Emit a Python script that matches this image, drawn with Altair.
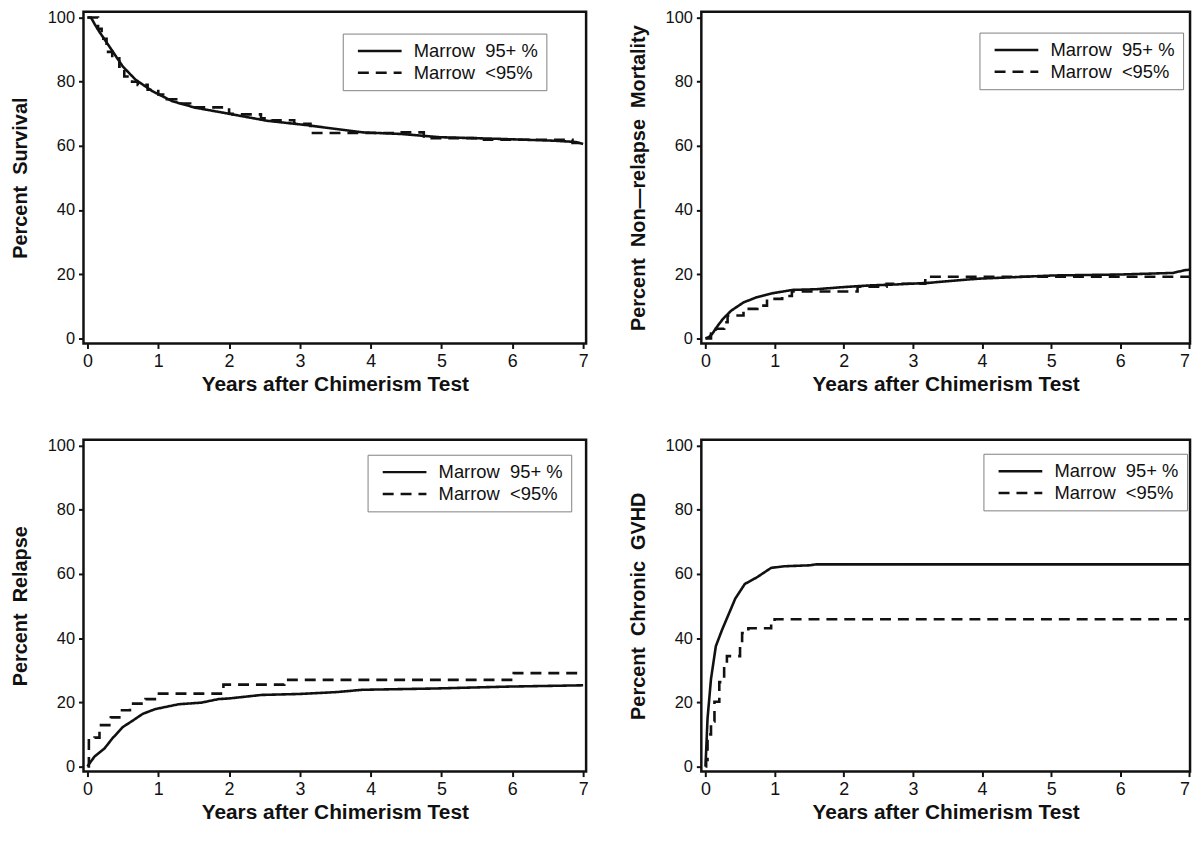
import altair as alt
import pandas as pd

G_HI = "Marrow\u00a0\u00a095+ %\u00a0\u00a0"
G_LO = "Marrow\u00a0\u00a0<95%\u00a0\u00a0"

# Panel 1: Percent Survival
surv_hi_t = [0, 0.05, 0.1, 0.17, 0.36, 0.5, 0.68, 0.92, 1.2, 1.52, 1.95, 2.54, 3.08, 3.46, 3.89, 4.43, 4.97, 5.78, 6.59, 6.9, 7.0]
surv_hi_v = [100, 100, 98, 95.5, 89.3, 84.7, 80.6, 77, 73.9, 71.9, 70.2, 67.8, 66.5, 65.4, 64.2, 63.7, 62.7, 62.2, 61.6, 61.2, 60.6]
surv_lo_t = [0, 0.15, 0.2, 0.27, 0.35, 0.45, 0.52, 0.63, 0.71, 0.85, 1.0, 1.12, 1.28, 1.45, 2.0, 2.05, 2.45, 2.6, 2.92, 3.15, 3.7, 4.4, 4.75, 5.6, 6.85, 7.0]
surv_lo_v = [100, 96.5, 93.4, 89.3, 87.3, 84.7, 81.6, 80, 79, 77.5, 76, 74.5, 73.2, 72, 70, 69.8, 68.6, 68, 66.9, 64, 64, 64.2, 62.4, 61.9, 60.9, 60.9]

# Panel 2: Percent Non-relapse Mortality
nrm_hi_t = [0, 0.05, 0.1, 0.18, 0.25, 0.37, 0.55, 0.74, 0.98, 1.26, 1.59, 2.01, 2.38, 2.76, 3.23, 3.6, 3.95, 4.5, 5.03, 6.0, 6.77, 6.92, 7.0]
nrm_hi_v = [0, 0.4, 1.5, 4, 6, 8.6, 11.2, 12.8, 14.1, 15.1, 15.3, 16, 16.5, 16.8, 17.3, 18, 18.6, 19.1, 19.6, 19.9, 20.4, 21.2, 21.4]
nrm_lo_t = [0, 0.08, 0.15, 0.27, 0.32, 0.55, 0.75, 0.89, 1.11, 1.25, 2.2, 2.62, 3.18, 7.0]
nrm_lo_v = [0, 1.5, 3, 5, 7.1, 9.2, 10.2, 12.3, 13.2, 14.6, 16.1, 17, 19.2, 19.2]

# Panel 3: Percent Relapse
rel_hi_t = [0, 0.03, 0.1, 0.24, 0.35, 0.5, 0.64, 0.78, 0.96, 1.29, 1.61, 1.85, 2.0, 2.46, 3.0, 3.53, 3.88, 4.9, 5.95, 7.0]
rel_hi_v = [0, 1, 3.1, 5.6, 8.7, 12.3, 14.3, 16.4, 17.9, 19.4, 19.9, 21, 21.2, 22.3, 22.6, 23.2, 23.9, 24.3, 24.9, 25.3]
rel_lo_t = [0, 0.02, 0.1, 0.17, 0.33, 0.45, 0.6, 0.82, 0.98, 1.92, 2.78, 6.02, 7.0]
rel_lo_v = [0, 8.6, 9, 12.9, 15.3, 17.5, 19.6, 21, 22.7, 25.5, 27, 29.1, 29.1]

# Panel 4: Percent Chronic GVHD
gv_hi_t = [0, 0.01, 0.03, 0.08, 0.15, 0.24, 0.36, 0.43, 0.57, 0.74, 0.95, 1.14, 1.51, 1.6, 7.0]
gv_hi_v = [0, 4.9, 15, 27.3, 37.5, 42.6, 48.7, 52.3, 56.9, 58.9, 61.9, 62.4, 62.7, 63, 63]
gv_lo_t = [0, 0.01, 0.03, 0.08, 0.13, 0.2, 0.27, 0.31, 0.43, 0.5, 0.53, 0.62, 0.95, 1.0, 7.0]
gv_lo_v = [0, 2, 10, 14, 20.2, 26.3, 31.4, 34.4, 34.4, 38.5, 41.6, 43.1, 44.6, 45.9, 45.9]

x_ticks = [0, 1, 2, 3, 4, 5, 6, 7]
y_ticks = [0, 20, 40, 60, 80, 100]
X_TITLE = "Years after Chimerism Test"

FONT = "Liberation Sans"
INK = "#111111"
PANEL_H = 334


def panel(t_hi, v_hi, t_lo, v_lo, ytitle, width, xdom, flush, lx, ly):
    df_hi = pd.DataFrame({"t": t_hi, "v": v_hi, "g": G_HI})
    df_lo = pd.DataFrame({"t": t_lo, "v": v_lo, "g": G_LO})
    x = alt.X("t:Q",
              scale=alt.Scale(domain=xdom, nice=False, zero=False),
              axis=alt.Axis(values=x_ticks, title=X_TITLE, format="d", labelFlush=flush))
    y = alt.Y("v:Q",
              scale=alt.Scale(domain=[-1.6, 101.8], nice=False, zero=False),
              axis=alt.Axis(values=y_ticks, title=ytitle, format="d"))
    dash = alt.StrokeDash(
        "g:N",
        scale=alt.Scale(domain=[G_HI, G_LO], range=[[1, 0], [11, 7]]),
        legend=alt.Legend(
            title=None, orient="none", legendX=lx, legendY=ly,
            strokeColor="#808080", padding=8,
            symbolType="M-2.75,0H2.75", symbolSize=256, symbolStrokeWidth=2.5,
            symbolOffset=19.75,
            symbolStrokeColor=INK, labelFont=FONT, labelFontSize=18.5,
            labelColor=INK, labelOffset=24.75, rowPadding=3,
        ),
    )
    solid = alt.Chart(df_hi).mark_line(color=INK, strokeWidth=2.6).encode(x=x, y=y, strokeDash=dash)
    dashed = alt.Chart(df_lo).mark_line(color=INK, strokeWidth=2.6, interpolate="step-after").encode(
        x=x, y=y, strokeDash=dash)
    return alt.layer(solid, dashed).properties(width=width, height=PANEL_H)


LEFT_DOM = [-0.056, 7.042]
RIGHT_DOM = [-0.06, 7.01]

p1 = panel(surv_hi_t, surv_hi_v, surv_lo_t, surv_lo_v, "Percent\u00a0\u00a0Survival",
           506, LEFT_DOM, False, 261, 22)
p2 = panel(nrm_hi_t, nrm_hi_v, nrm_lo_t, nrm_lo_v, "Percent\u00a0\u00a0Non\u2014relapse\u00a0\u00a0Mortality",
           492, RIGHT_DOM, 2, 280, 21)
p3 = panel(rel_hi_t, rel_hi_v, rel_lo_t, rel_lo_v, "Percent\u00a0\u00a0Relapse",
           506, LEFT_DOM, False, 286, 15)
p4 = panel(gv_hi_t, gv_hi_v, gv_lo_t, gv_lo_v, "Percent\u00a0\u00a0Chronic\u00a0\u00a0GVHD",
           492, RIGHT_DOM, 2, 284, 14)

row1 = alt.hconcat(p1, p2, spacing=37).resolve_scale(strokeDash="independent")
row2 = alt.hconcat(p3, p4, spacing=37).resolve_scale(strokeDash="independent")

chart = (
    alt.vconcat(row1, row2, spacing=40)
    .resolve_scale(strokeDash="independent")
    .properties(padding={"left": 1, "top": -3, "right": 0, "bottom": 0}, background="white")
    .configure_view(stroke=INK, strokeWidth=2.5)
    .configure_axis(
        domain=False, grid=False,
        ticks=True, tickColor=INK, tickWidth=2, tickSize=5,
        labelFont=FONT, labelColor=INK, labelPadding=4,
        titleFont=FONT, titleFontWeight="bold", titleColor=INK,
    )
    .configure_axisX(labelFontSize=18, labelPadding=4, titleFontSize=21, titlePadding=3)
    .configure_axisY(labelFontSize=16.5, titleFontSize=20, titlePadding=17)
)

chart.save("out.html", embed_options={"renderer": "svg", "actions": False})
